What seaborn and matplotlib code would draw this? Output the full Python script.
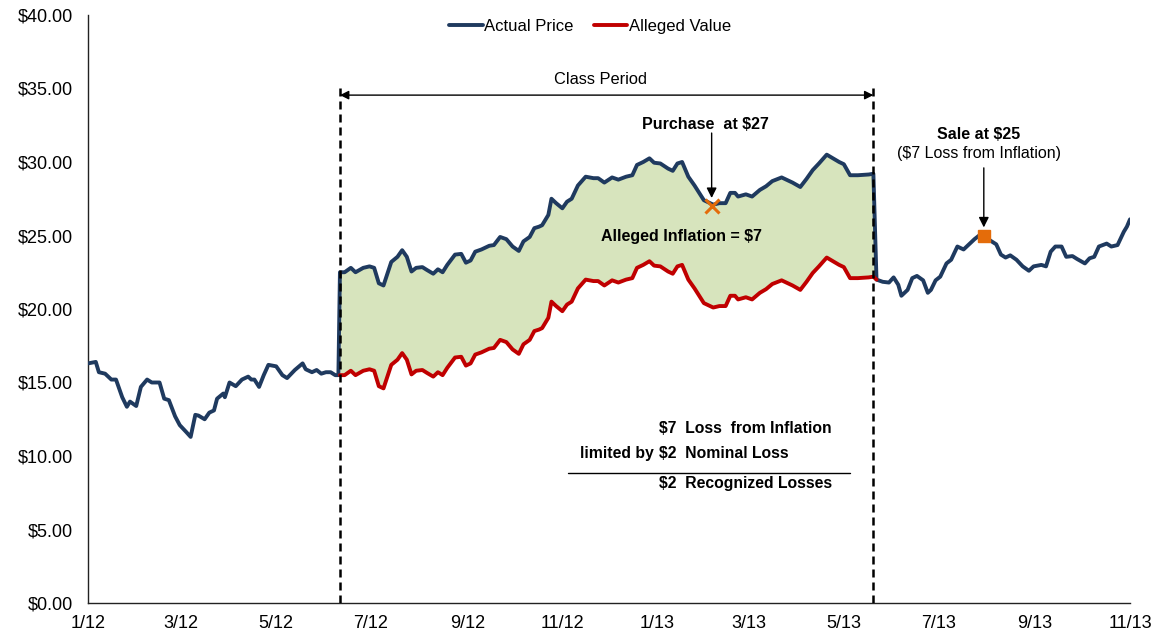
import pandas as pd
import numpy as np
import matplotlib
matplotlib.use("Agg")
import matplotlib.pyplot as plt
import matplotlib.dates as mdates
from matplotlib.ticker import FuncFormatter, MultipleLocator
import seaborn as sns

# ---------------- data ----------------
pre_dates = ["2012-01-01","2012-01-06","2012-01-08","2012-01-12","2012-01-16","2012-01-19","2012-01-23","2012-01-26","2012-01-28",
             "2012-02-01","2012-02-04","2012-02-08","2012-02-11","2012-02-16","2012-02-19","2012-02-22","2012-02-26","2012-02-29",
             "2012-03-04","2012-03-07","2012-03-10","2012-03-12","2012-03-16","2012-03-19","2012-03-22","2012-03-24","2012-03-28","2012-03-29",
             "2012-04-01","2012-04-05","2012-04-09","2012-04-13","2012-04-15","2012-04-17","2012-04-20","2012-04-23","2012-04-26",
             "2012-05-01","2012-05-05","2012-05-08","2012-05-13","2012-05-18","2012-05-20","2012-05-24","2012-05-27","2012-05-30",
             "2012-06-02","2012-06-05","2012-06-08","2012-06-10"]
pre_price = [16.3,16.4,15.7,15.6,15.2,15.2,14.0,13.35,13.7,
             13.4,14.7,15.2,15.0,15.0,13.9,13.8,12.7,12.1,
             11.65,11.3,12.8,12.75,12.5,12.95,13.1,13.9,14.25,14.0,
             15.0,14.75,15.2,15.4,15.2,15.2,14.7,15.5,16.2,
             16.1,15.5,15.3,15.85,16.3,15.9,15.7,15.85,15.6,
             15.7,15.7,15.5,15.5]

class_dates = ["2012-06-11","2012-06-14","2012-06-18","2012-06-21","2012-06-26","2012-06-30",
               "2012-07-03","2012-07-06","2012-07-09","2012-07-14","2012-07-18","2012-07-21","2012-07-24","2012-07-27","2012-07-30",
               "2012-08-03","2012-08-06","2012-08-10","2012-08-13","2012-08-16","2012-08-19","2012-08-24","2012-08-28","2012-08-31",
               "2012-09-03","2012-09-06","2012-09-10","2012-09-15","2012-09-18","2012-09-22","2012-09-26","2012-09-30",
               "2012-10-04","2012-10-07","2012-10-11","2012-10-14","2012-10-17","2012-10-19","2012-10-23","2012-10-25","2012-10-28",
               "2012-11-01","2012-11-04","2012-11-07","2012-11-11","2012-11-16","2012-11-21","2012-11-24","2012-11-28",
               "2012-12-03","2012-12-07","2012-12-12","2012-12-16","2012-12-19","2012-12-23","2012-12-27","2012-12-30",
               "2013-01-03","2013-01-08","2013-01-11","2013-01-14","2013-01-17","2013-01-21","2013-01-25","2013-01-28","2013-01-31",
               "2013-02-06","2013-02-10","2013-02-14","2013-02-17","2013-02-20","2013-02-22","2013-02-27",
               "2013-03-03","2013-03-08","2013-03-12","2013-03-16","2013-03-22","2013-03-25","2013-03-29",
               "2013-04-03","2013-04-07","2013-04-11","2013-04-15","2013-04-20","2013-04-24","2013-04-28",
               "2013-05-01","2013-05-05","2013-05-10","2013-05-17","2013-05-20","2013-05-22"]
class_price = [22.5,22.5,22.8,22.5,22.8,22.9,
               22.8,21.75,21.6,23.2,23.55,24.0,23.55,22.55,22.8,
               22.85,22.65,22.4,22.7,22.5,23.0,23.7,23.75,23.15,
               23.3,23.9,24.05,24.3,24.35,24.9,24.75,24.25,
               23.95,24.6,24.9,25.5,25.6,25.7,26.4,27.5,27.2,
               26.85,27.3,27.5,28.4,29.0,28.9,28.9,28.6,
               28.95,28.8,29.0,29.1,29.8,30.0,30.25,29.95,
               29.9,29.55,29.4,29.9,30.0,29.0,28.4,27.9,27.4,
               27.1,27.2,27.2,27.9,27.9,27.65,27.8,
               27.65,28.1,28.35,28.7,28.95,28.8,28.6,
               28.3,28.85,29.45,29.9,30.5,30.25,30.0,
               29.85,29.1,29.1,29.15,29.2,22.0]
class_value = [15.5,15.5,15.8,15.5,15.8,15.9,
               15.8,14.75,14.6,16.2,16.55,17.0,16.55,15.55,15.8,
               15.85,15.65,15.4,15.7,15.5,16.0,16.7,16.75,16.15,
               16.3,16.9,17.05,17.3,17.35,17.9,17.75,17.25,
               16.95,17.6,17.9,18.5,18.6,18.7,19.4,20.5,20.2,
               19.85,20.3,20.5,21.4,22.0,21.9,21.9,21.6,
               21.95,21.8,22.0,22.1,22.8,23.0,23.25,22.95,
               22.9,22.55,22.4,22.9,23.0,22.0,21.4,20.9,20.4,
               20.1,20.2,20.2,20.9,20.9,20.65,20.8,
               20.65,21.1,21.35,21.7,21.95,21.8,21.6,
               21.3,21.85,22.45,22.9,23.5,23.25,23.0,
               22.85,22.1,22.1,22.15,22.2,22.0]

post_dates = ["2013-05-26","2013-05-30",
              "2013-06-02","2013-06-05","2013-06-07","2013-06-11","2013-06-14","2013-06-17","2013-06-21","2013-06-24","2013-06-26","2013-06-29",
              "2013-07-02","2013-07-06","2013-07-09","2013-07-13","2013-07-17","2013-07-21","2013-07-24","2013-07-27","2013-07-30",
              "2013-08-04","2013-08-07","2013-08-10","2013-08-13","2013-08-16","2013-08-20","2013-08-24","2013-08-28","2013-08-31",
              "2013-09-05","2013-09-08","2013-09-11","2013-09-14","2013-09-18","2013-09-21","2013-09-25","2013-09-28",
              "2013-10-03","2013-10-06","2013-10-09","2013-10-12","2013-10-17","2013-10-20","2013-10-24","2013-10-28","2013-10-30",
              "2013-11-01"]
post_price = [21.85,21.8,
              22.15,21.65,20.9,21.3,22.1,22.25,21.95,21.1,21.3,21.95,
              22.2,23.1,23.35,24.25,24.05,24.45,24.75,25.0,24.95,
              24.6,24.4,23.7,23.5,23.65,23.35,22.9,22.6,22.9,
              23.0,22.9,23.9,24.25,24.25,23.55,23.6,23.4,
              23.1,23.45,23.55,24.25,24.45,24.25,24.35,25.25,25.6,
              26.1]

class_start = "2012-06-11"
class_end = "2013-05-20"
purchase_date, purchase_price = "2013-02-05", 27.0
sale_date, sale_price = "2013-07-30", 25.0
y_ticks = [0, 5, 10, 15, 20, 25, 30, 35, 40]

# ---------------- frames ----------------
actual = pd.DataFrame({
    "date": pd.to_datetime(pre_dates + class_dates + post_dates),
    "price": pre_price + class_price + post_price,
})
alleged = pd.DataFrame({"date": pd.to_datetime(class_dates), "value": class_value})

NAVY = "#1F3A5F"
RED = "#C00000"
GREEN = "#D7E4BD"
ORANGE = "#E46C0A"

sns.set_style("white")
plt.rcParams["font.family"] = ["Liberation Sans", "DejaVu Sans"]
plt.rcParams["text.color"] = "black"
plt.rcParams["xtick.color"] = "black"
plt.rcParams["ytick.color"] = "black"
plt.rcParams["axes.labelcolor"] = "black"

fig = plt.figure(figsize=(11.59, 6.38), dpi=100)
ax = fig.add_axes([88/1159, 35/638, 1042/1159, 588/638])

# band of alleged inflation
ax.fill_between(pd.to_datetime(class_dates), class_value, class_price,
                color=GREEN, lw=0, zorder=1)

sns.lineplot(data=actual, x="date", y="price", color=NAVY, lw=2.8,
             sort=False, estimator=None, label="Actual Price", ax=ax, zorder=3,
             solid_joinstyle="round", solid_capstyle="round")
sns.lineplot(data=alleged, x="date", y="value", color=RED, lw=2.8,
             sort=False, estimator=None, label="Alleged Value", ax=ax, zorder=3,
             solid_joinstyle="round", solid_capstyle="round")

# class period markers
cs, ce = pd.Timestamp(class_start), pd.Timestamp(class_end)
for d in (cs, ce):
    ax.plot([d, d], [0, 35.1], color="black", lw=1.8, ls=(0, (3.2, 2.0)), zorder=5)
ax.annotate("", xy=(ce, 34.55), xytext=(cs, 34.55),
            arrowprops=dict(arrowstyle="<|-|>", color="black", lw=1.0,
                            shrinkA=0, shrinkB=0, mutation_scale=13), zorder=6)
ax.text(0.4923, 0.8895, "Class Period", transform=ax.transAxes,
        ha="center", va="center", fontsize=11.8)

# purchase / sale points
pdt, sdt = pd.Timestamp(purchase_date), pd.Timestamp(sale_date)
ax.plot([pdt], [purchase_price], marker="x", ms=10, mew=2.2, color=ORANGE, zorder=7, ls="none")
ax.plot([sdt], [sale_price], marker="s", ms=8.8, color=ORANGE, zorder=7, ls="none")

ax.annotate("", xy=(pdt, purchase_price + 0.55), xytext=(pdt, 31.97),
            arrowprops=dict(arrowstyle="-|>", color="black", lw=1.0,
                            shrinkA=0, shrinkB=0, mutation_scale=15), zorder=6)
ax.text(0.5921, 0.8146, "Purchase  at $27", transform=ax.transAxes,
        ha="center", va="center", fontsize=11.5, fontweight="bold")

ax.annotate("", xy=(sdt, sale_price + 0.55), xytext=(sdt, 29.6),
            arrowprops=dict(arrowstyle="-|>", color="black", lw=1.0,
                            shrinkA=0, shrinkB=0, mutation_scale=15), zorder=6)
ax.text(0.855, 0.7976, "Sale at $25", transform=ax.transAxes,
        ha="center", va="center", fontsize=11.5, fontweight="bold")
ax.text(0.855, 0.765, "($7 Loss from Inflation)", transform=ax.transAxes,
        ha="center", va="center", fontsize=11.5)

ax.text(0.570, 0.624, "Alleged Inflation = $7", transform=ax.transAxes,
        ha="center", va="center", fontsize=11.5, fontweight="bold", zorder=6)

# loss computation block
ax.text(0.548, 0.296, "$7  Loss  from Inflation", transform=ax.transAxes,
        ha="left", va="center", fontsize=11.3, fontweight="bold")
ax.text(0.5425, 0.255, "limited by", transform=ax.transAxes,
        ha="right", va="center", fontsize=11.3, fontweight="bold")
ax.text(0.548, 0.255, "$2  Nominal Loss", transform=ax.transAxes,
        ha="left", va="center", fontsize=11.3, fontweight="bold")
ax.plot([0.4607, 0.7313], [0.221, 0.221], transform=ax.transAxes,
        color="black", lw=1.0)
ax.text(0.548, 0.2025, "$2  Recognized Losses", transform=ax.transAxes,
        ha="left", va="center", fontsize=11.3, fontweight="bold")

# axes styling
ax.set_xlim(pd.Timestamp("2012-01-01"), pd.Timestamp("2013-11-01"))
ax.set_ylim(0, 40)
ax.set_yticks(y_ticks)
ax.yaxis.set_major_formatter(FuncFormatter(lambda v, p: f"${v:.2f}"))
ax.xaxis.set_major_locator(mdates.MonthLocator(bymonth=[1, 3, 5, 7, 9, 11]))
ax.xaxis.set_major_formatter(FuncFormatter(
    lambda v, p: f"{mdates.num2date(v).month}/{mdates.num2date(v):%y}"))
ax.set_xlabel("")
ax.set_ylabel("")
for s in ("top", "right"):
    ax.spines[s].set_visible(False)
for s in ("left", "bottom"):
    ax.spines[s].set_color("#222222")
    ax.spines[s].set_linewidth(1.0)
ax.tick_params(axis="both", which="major", direction="out", length=4.5,
               width=1.0, color="#222222", labelsize=13, pad=4)
ax.tick_params(axis="y", pad=6)

ax.legend(loc="center", bbox_to_anchor=(0.482, 0.981), ncol=2, frameon=False,
          fontsize=12, handlelength=2.0, handletextpad=0.1, columnspacing=1.2)

fig.savefig("out.png", dpi=100)
